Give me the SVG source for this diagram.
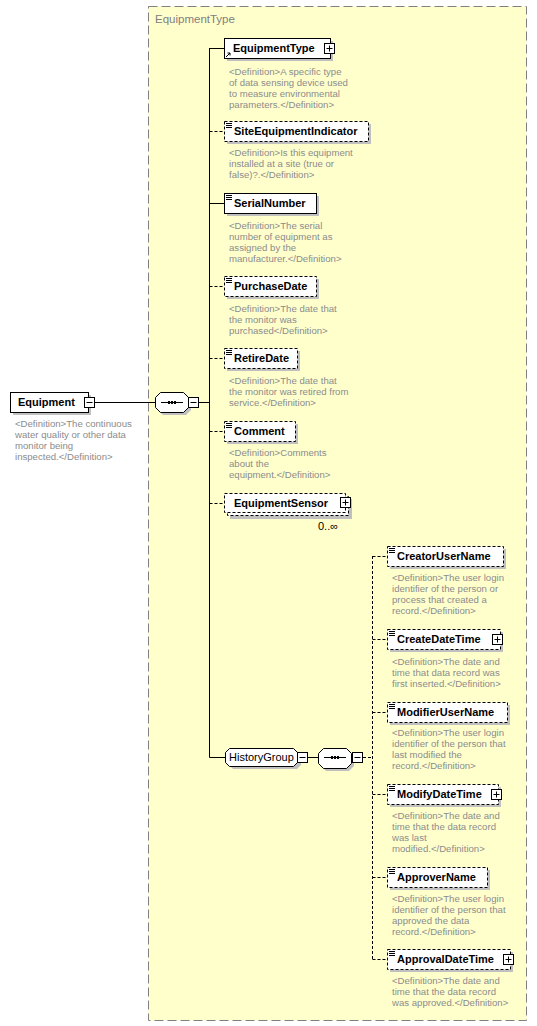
<svg xmlns="http://www.w3.org/2000/svg" width="537" height="1026" viewBox="0 0 537 1026">
<style>
.lbl{font-family:"Liberation Sans",Arial,sans-serif;font-size:11px;font-weight:bold;fill:#000}
.grp{font-family:"Liberation Sans",Arial,sans-serif;font-size:11px;fill:#000}
.def{font-family:"Liberation Sans",Arial,sans-serif;font-size:9.6px;fill:#8c8c8c}
.box{fill:#fff;stroke:#000;stroke-width:1}
.opt{fill:#fff;stroke:#000;stroke-width:1;stroke-dasharray:3,2}
.sh{fill:#c0c0c0}
.ln{stroke:#000;stroke-width:1;fill:none}
.dl{stroke:#000;stroke-width:1;fill:none;stroke-dasharray:3,2}
.btn{fill:#fff;stroke:#000;stroke-width:1}
</style>
<defs>
<g id="minus"><rect class="btn" x="0.5" y="0.5" width="10" height="10"/><path d="M2.5 5.5h6" stroke="#000"/></g>
<g id="plus"><rect class="btn" x="0.5" y="0.5" width="10" height="10"/><path d="M2.5 5.5h6M5.5 2.5v6" stroke="#000"/></g>
<path id="simp" d="M2 2.5h6M2 4.5h6M2 6.5h6" stroke="#000" stroke-width="1"/>
<g id="seq"><path d="M0 0.5h22" stroke="#000"/><rect x="7" y="-1" width="2" height="3" fill="#000"/><rect x="10" y="-1" width="2" height="3" fill="#000"/><rect x="13" y="-1" width="2" height="3" fill="#000"/></g>
</defs>

<g id="EquipmentType-container">
<rect x="148.5" y="6.5" width="378" height="1014" fill="#ffffcc" stroke="#808080" stroke-dasharray="9,4"/>
<text x="155" y="23" font-family="'Liberation Sans',Arial,sans-serif" font-size="11.5" fill="#808080">EquipmentType</text>
</g>

<g id="connectors">
<path class="ln" d="M95 402.5H155"/>
<path class="ln" d="M199 402.5H209.5"/>
<path class="ln" d="M209.5 48V757.5"/>
<path class="ln" d="M209.5 48.5H224"/>
<path class="dl" d="M209.5 131.5H224"/>
<path class="ln" d="M209.5 203.5H224"/>
<path class="dl" d="M209.5 286.5H224"/>
<path class="dl" d="M209.5 358.5H224"/>
<path class="dl" d="M209.5 431.5H224"/>
<path class="dl" d="M209.5 503.5H224"/>
<path class="ln" d="M209.5 757.5H225"/>
<path class="ln" d="M308 757.5H318"/>
<path class="dl" d="M363 757.5H372.5"/>
<path class="dl" d="M372.5 556V959"/>
<path class="dl" d="M372.5 556.5H387"/>
<path class="dl" d="M372.5 639.5H387"/>
<path class="dl" d="M372.5 712.5H387"/>
<path class="dl" d="M372.5 794.5H387"/>
<path class="dl" d="M372.5 877.5H387"/>
<path class="dl" d="M372.5 959.5H387"/>
</g>

<g id="Equipment">
<rect class="sh" x="13" y="395" width="78" height="20"/>
<rect class="box" x="10.5" y="392.5" width="78" height="20"/>
<text class="lbl" x="18" y="406">Equipment</text>
<use href="#minus" x="84" y="397"/>
<text class="def" x="15" y="427">&lt;Definition&gt;The continuous</text>
<text class="def" x="15" y="438">water quality or other data</text>
<text class="def" x="15" y="449">monitor being</text>
<text class="def" x="15" y="460">inspected.&lt;/Definition&gt;</text>
</g>

<g id="sequence1">
<path class="sh" d="M163 395h23l5 5v10l-5 5h-23l-5-5v-10z"/>
<path d="M160.5 392.5h23l5 5v10l-5 5h-23l-5-5v-10z" fill="#fff" stroke="#000"/>
<use href="#seq" x="161" y="402"/>
<use href="#minus" x="188" y="397"/>
</g>

<g id="EquipmentType">
<rect class="sh" x="227" y="41" width="106" height="20"/>
<rect class="box" x="224.5" y="38.5" width="106" height="20"/>
<text class="lbl" x="233" y="52">EquipmentType</text>
<path d="M226 57l4-4M227.5 53h2.5v2.5" stroke="#000" fill="none"/>
<use href="#plus" x="324" y="43"/>
<text class="def" x="229" y="75">&lt;Definition&gt;A specific type</text>
<text class="def" x="229" y="86">of data sensing device used</text>
<text class="def" x="229" y="97">to measure environmental</text>
<text class="def" x="229" y="108">parameters.&lt;/Definition&gt;</text>
</g>

<g id="SiteEquipmentIndicator">
<rect class="sh" x="227" y="124" width="144" height="20"/>
<rect class="opt" x="224.5" y="121.5" width="144" height="20"/>
<use href="#simp" x="224" y="121"/>
<text class="lbl" x="234" y="135">SiteEquipmentIndicator</text>
<text class="def" x="229" y="156">&lt;Definition&gt;Is this equipment</text>
<text class="def" x="229" y="167">installed at a site (true or</text>
<text class="def" x="229" y="178">false)?.&lt;/Definition&gt;</text>
</g>

<g id="SerialNumber">
<rect class="sh" x="227" y="196" width="92" height="20"/>
<rect class="box" x="224.5" y="193.5" width="92" height="20"/>
<use href="#simp" x="224" y="193"/>
<text class="lbl" x="234" y="207">SerialNumber</text>
<text class="def" x="229" y="229">&lt;Definition&gt;The serial</text>
<text class="def" x="229" y="240">number of equipment as</text>
<text class="def" x="229" y="251">assigned by the</text>
<text class="def" x="229" y="262">manufacturer.&lt;/Definition&gt;</text>
</g>

<g id="PurchaseDate">
<rect class="sh" x="227" y="279" width="92" height="20"/>
<rect class="opt" x="224.5" y="276.5" width="92" height="20"/>
<use href="#simp" x="224" y="276"/>
<text class="lbl" x="234" y="290">PurchaseDate</text>
<text class="def" x="229" y="312">&lt;Definition&gt;The date that</text>
<text class="def" x="229" y="323">the monitor was</text>
<text class="def" x="229" y="334">purchased&lt;/Definition&gt;</text>
</g>

<g id="RetireDate">
<rect class="sh" x="227" y="351" width="73" height="20"/>
<rect class="opt" x="224.5" y="348.5" width="73" height="20"/>
<use href="#simp" x="224" y="348"/>
<text class="lbl" x="234" y="362">RetireDate</text>
<text class="def" x="229" y="384">&lt;Definition&gt;The date that</text>
<text class="def" x="229" y="395">the monitor was retired from</text>
<text class="def" x="229" y="406">service.&lt;/Definition&gt;</text>
</g>

<g id="Comment">
<rect class="sh" x="227" y="424" width="71" height="20"/>
<rect class="opt" x="224.5" y="421.5" width="71" height="20"/>
<use href="#simp" x="224" y="421"/>
<text class="lbl" x="234" y="435">Comment</text>
<text class="def" x="229" y="456">&lt;Definition&gt;Comments</text>
<text class="def" x="229" y="467">about the</text>
<text class="def" x="229" y="478">equipment.&lt;/Definition&gt;</text>
</g>

<g id="EquipmentSensor">
<rect class="sh" x="230" y="499" width="122" height="20"/>
<rect class="opt" x="227.5" y="496.5" width="121" height="19"/>
<rect class="opt" x="224.5" y="493.5" width="121" height="19"/>
<text class="lbl" x="234" y="507">EquipmentSensor</text>
<use href="#plus" x="340" y="497"/>
<text x="318" y="530" font-family="'Liberation Sans',Arial,sans-serif" font-size="11" fill="#000">0..∞</text>
</g>

<g id="HistoryGroup">
<path class="sh" d="M233 751h64l4 4v10l-4 4h-64l-4-4v-10z"/>
<path d="M229.5 748.5h64l4 4v10l-4 4h-64l-4-4v-10z" fill="#fff" stroke="#000"/>
<text class="grp" x="229" y="761">HistoryGroup</text>
<use href="#minus" x="297" y="752"/>
</g>

<g id="sequence2">
<path class="sh" d="M326 751h23l5 5v10l-5 5h-23l-5-5v-10z"/>
<path d="M323.5 748.5h23l5 5v10l-5 5h-23l-5-5v-10z" fill="#fff" stroke="#000"/>
<use href="#seq" x="324" y="757"/>
<use href="#minus" x="352" y="752"/>
</g>

<g id="CreatorUserName">
<rect class="sh" x="390" y="549" width="116" height="20"/>
<rect class="opt" x="387.5" y="546.5" width="116" height="20"/>
<use href="#simp" x="387" y="546"/>
<text class="lbl" x="397" y="560">CreatorUserName</text>
<text class="def" x="392" y="581">&lt;Definition&gt;The user login</text>
<text class="def" x="392" y="592">identifier of the person or</text>
<text class="def" x="392" y="603">process that created a</text>
<text class="def" x="392" y="614">record.&lt;/Definition&gt;</text>
</g>

<g id="CreateDateTime">
<rect class="sh" x="390" y="632" width="113" height="20"/>
<rect class="opt" x="387.5" y="629.5" width="113" height="20"/>
<use href="#simp" x="387" y="629"/>
<text class="lbl" x="397" y="643">CreateDateTime</text>
<use href="#plus" x="492" y="634"/>
<text class="def" x="392" y="665">&lt;Definition&gt;The date and</text>
<text class="def" x="392" y="676">time that data record was</text>
<text class="def" x="392" y="687">first inserted.&lt;/Definition&gt;</text>
</g>

<g id="ModifierUserName">
<rect class="sh" x="390" y="705" width="120" height="20"/>
<rect class="opt" x="387.5" y="702.5" width="120" height="20"/>
<use href="#simp" x="387" y="702"/>
<text class="lbl" x="397" y="716">ModifierUserName</text>
<text class="def" x="392" y="736">&lt;Definition&gt;The user login</text>
<text class="def" x="392" y="747">identifier of the person that</text>
<text class="def" x="392" y="758">last modified the</text>
<text class="def" x="392" y="769">record.&lt;/Definition&gt;</text>
</g>

<g id="ModifyDateTime">
<rect class="sh" x="390" y="787" width="111" height="20"/>
<rect class="opt" x="387.5" y="784.5" width="111" height="20"/>
<use href="#simp" x="387" y="784"/>
<text class="lbl" x="397" y="798">ModifyDateTime</text>
<use href="#plus" x="491" y="789"/>
<text class="def" x="392" y="819">&lt;Definition&gt;The date and</text>
<text class="def" x="392" y="830">time that the data record</text>
<text class="def" x="392" y="841">was last</text>
<text class="def" x="392" y="852">modified.&lt;/Definition&gt;</text>
</g>

<g id="ApproverName">
<rect class="sh" x="390" y="870" width="100" height="20"/>
<rect class="opt" x="387.5" y="867.5" width="100" height="20"/>
<use href="#simp" x="387" y="867"/>
<text class="lbl" x="397" y="881">ApproverName</text>
<text class="def" x="392" y="902">&lt;Definition&gt;The user login</text>
<text class="def" x="392" y="913">identifier of the person that</text>
<text class="def" x="392" y="924">approved the data</text>
<text class="def" x="392" y="935">record.&lt;/Definition&gt;</text>
</g>

<g id="ApprovalDateTime">
<rect class="sh" x="390" y="952" width="123" height="20"/>
<rect class="opt" x="387.5" y="949.5" width="123" height="20"/>
<use href="#simp" x="387" y="949"/>
<text class="lbl" x="397" y="963">ApprovalDateTime</text>
<use href="#plus" x="503" y="954"/>
<text class="def" x="392" y="984">&lt;Definition&gt;The date and</text>
<text class="def" x="392" y="995">time that the data record</text>
<text class="def" x="392" y="1006">was approved.&lt;/Definition&gt;</text>
</g>
</svg>
